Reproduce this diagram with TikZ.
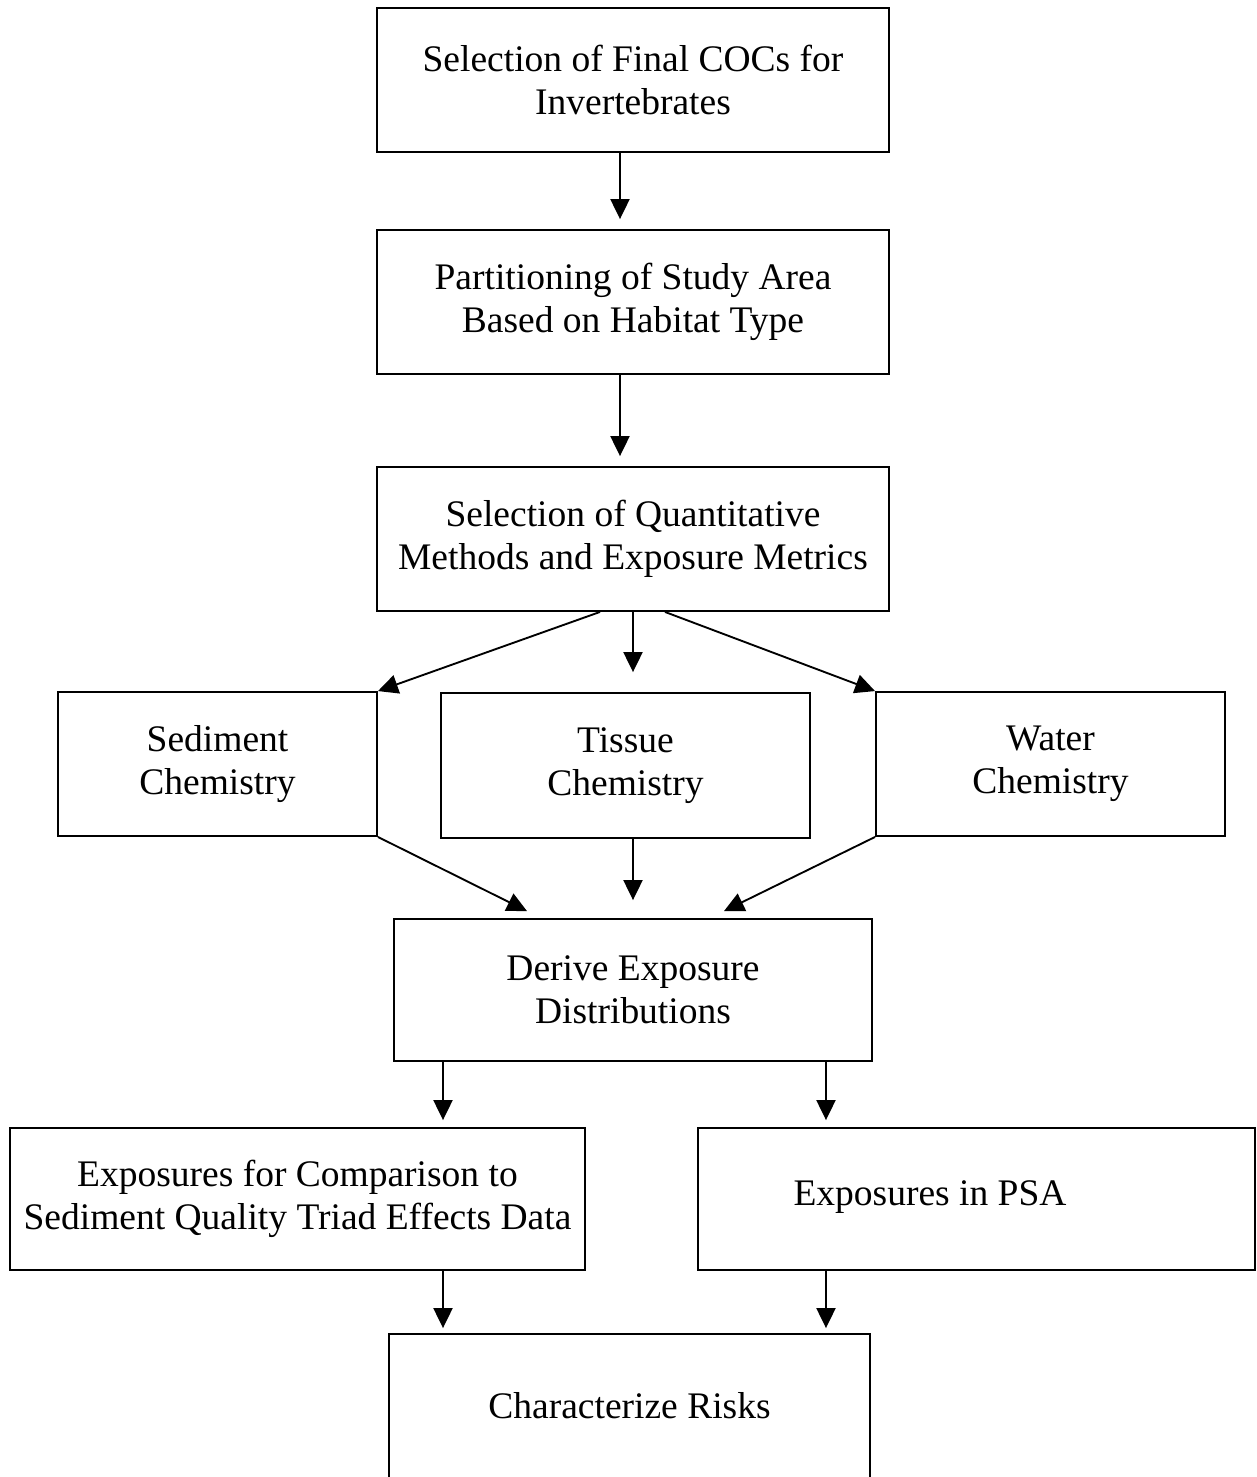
\documentclass[tikz,border=0pt]{standalone}
\usepackage{fontspec}
\setmainfont{Liberation Serif}
\usetikzlibrary{arrows.meta}

\begin{document}
\begin{tikzpicture}[x=0.32pt,y=-0.32pt,
  box/.style={draw,line width=0.6pt,inner sep=0pt,align=center,minimum height=46.08pt,font=\fontsize{12pt}{13.8pt}\selectfont},
  arr/.style={line width=0.6pt,-{Triangle[length=6.4pt,width=6.1pt]}}]
\useasboundingbox (0,0) rectangle (1257,1477);
\clip (0,0) rectangle (1257,1477);
\node[box,minimum width=163.84pt] (sel) at (633,80) {Selection of Final COCs for\\Invertebrates};
\node[box,minimum width=163.84pt] (prt) at (633,302) {Partitioning of Study Area\\Based on Habitat Type};
\node[box,minimum width=163.84pt] (mth) at (633,539) {Selection of Quantitative\\Methods and Exposure Metrics};
\node[box,minimum width=102.08pt] (sed) at (217.5,764) {Sediment\\Chemistry};
\node[box,minimum width=118.08pt,minimum height=46.4pt] (tis) at (625.5,765.5) {Tissue\\Chemistry};
\node[box,minimum width=111.68pt] (wat) at (1050.5,764) {Water\\Chemistry};
\node[box,minimum width=152.96pt,minimum height=45.44pt] (der) at (633,990) {Derive Exposure\\Distributions};
\node[box,minimum width=184pt,minimum height=45.44pt] (cmp) at (297.5,1199) {Exposures for Comparison to\\Sediment Quality Triad Effects Data};
\node[box,minimum width=178.24pt,minimum height=45.44pt] (psa) at (976.5,1199) {};
\node[font=\fontsize{12pt}{13.8pt}\selectfont,inner sep=0pt] (psat) at (930,1197) {Exposures in PSA};
\node[box,minimum width=153.92pt] (chr) at (629.5,1406) {Characterize Risks};
\coordinate (c1) at ([xshift=-4.16pt]sel.south);
\coordinate (c2) at ([xshift=-4.16pt]prt.south);
\draw[arr,shorten >=3.2pt] (c1) -- (c1 |- prt.north);
\draw[arr,shorten >=3.2pt] (c2) -- (c2 |- mth.north);
\draw[arr] ([xshift=-10.56pt]mth.south) -- (sed.north east);
\draw[arr,shorten >=6.4pt] (mth.south) -- (mth.south |- tis.north);
\draw[arr] ([xshift=10.24pt]mth.south) -- (wat.north west);
\draw[arr] (sed.south east) -- ([xshift=-33.92pt,yshift=2.24pt]der.north);
\draw[arr,shorten >=5.76pt] (der.north |- tis.south) -- (der.north);
\draw[arr] (wat.south west) -- ([xshift=29.12pt,yshift=2.24pt]der.north);
\coordinate (dl) at ([xshift=-60.8pt]der.south);
\coordinate (dr) at ([xshift=61.76pt]der.south);
\draw[arr,shorten >=2.24pt] (dl) -- (dl |- cmp.north);
\draw[arr,shorten >=2.24pt] (dr) -- (dr |- psa.north);
\draw[arr,shorten >=1.6pt] (dl |- cmp.south) -- (dl |- chr.north);
\draw[arr,shorten >=1.6pt] (dr |- psa.south) -- (dr |- chr.north);
\end{tikzpicture}
\end{document}
